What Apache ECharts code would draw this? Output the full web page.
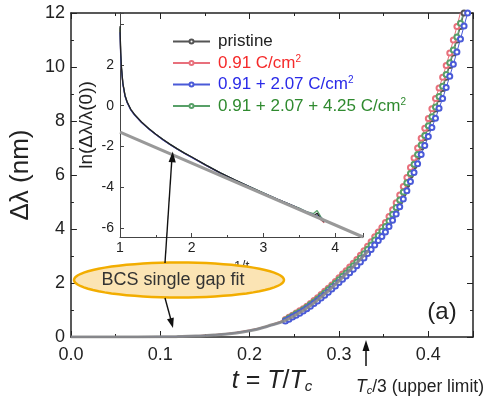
<!DOCTYPE html>
<html>
<head>
<meta charset="utf-8">
<script src="https://cdn.jsdelivr.net/npm/echarts@6/dist/echarts.min.js"></script>
<style>
  html, body { margin: 0; padding: 0; background: #fff; }
  #chart { width: 493px; height: 401px; }
</style>
</head>
<body>
<div id="chart"></div>
<script>
// reduced temperature t = T/Tc (main panel)
var tData = [0, 0.02, 0.04, 0.06, 0.08, 0.10, 0.12, 0.14, 0.16, 0.18, 0.20, 0.21, 0.22, 0.23, 0.24,
  0.244, 0.248, 0.252, 0.256, 0.26, 0.264, 0.268, 0.272, 0.276, 0.28, 0.284, 0.288, 0.292, 0.296,
  0.3, 0.304, 0.308, 0.312, 0.316, 0.32, 0.324, 0.328, 0.332, 0.336, 0.34, 0.344, 0.348, 0.352, 0.356,
  0.36, 0.364, 0.368, 0.372, 0.376, 0.38, 0.384, 0.388, 0.392, 0.396, 0.4, 0.404, 0.408, 0.412, 0.416,
  0.42, 0.424, 0.428, 0.432, 0.436, 0.44, 0.444];

// delta lambda (nm) for each irradiation dose
var pristine = [0, 0, 0, 0, 0, 0.01, 0.02, 0.04, 0.08, 0.14, 0.24, 0.31, 0.4, 0.5, 0.61,
  0.69, 0.77, 0.85, 0.92, 1.00, 1.09, 1.19, 1.29, 1.39, 1.50, 1.61, 1.73, 1.85, 1.97,
  2.10, 2.23, 2.35, 2.48, 2.61, 2.75, 2.90, 3.05, 3.22, 3.38, 3.55, 3.72, 3.88, 4.05, 4.26,
  4.50, 4.75, 5.02, 5.32, 5.65, 6.00, 6.34, 6.69, 7.04, 7.39, 7.74, 8.08, 8.44, 8.82, 9.20,
  9.62, 10.06, 10.52, 11.0, 11.5, 12.0, 12.5];
var dose1 = [0, 0, 0, 0, 0, 0.01, 0.02, 0.05, 0.09, 0.15, 0.26, 0.33, 0.42, 0.53, 0.65,
  0.73, 0.81, 0.89, 0.97, 1.05, 1.14, 1.24, 1.35, 1.45, 1.57, 1.69, 1.81, 1.93, 2.06,
  2.19, 2.33, 2.45, 2.59, 2.73, 2.87, 3.03, 3.19, 3.36, 3.53, 3.71, 3.89, 4.06, 4.24, 4.46,
  4.71, 4.97, 5.26, 5.57, 5.91, 6.28, 6.63, 7.0, 7.36, 7.73, 8.09, 8.45, 8.83, 9.22, 9.62,
  10.06, 10.52, 11.0, 11.5, 12.02, 12.54, 13.07];
var dose2 = [0, 0, 0, 0, 0, 0.01, 0.02, 0.04, 0.07, 0.13, 0.23, 0.3, 0.38, 0.48, 0.59,
  0.66, 0.74, 0.81, 0.88, 0.96, 1.05, 1.14, 1.24, 1.33, 1.44, 1.55, 1.66, 1.78, 1.89,
  2.02, 2.14, 2.26, 2.38, 2.51, 2.64, 2.78, 2.93, 3.09, 3.24, 3.41, 3.57, 3.72, 3.89, 4.09,
  4.32, 4.56, 4.82, 5.11, 5.42, 5.76, 6.09, 6.42, 6.76, 7.09, 7.43, 7.76, 8.10, 8.47, 8.83,
  9.24, 9.66, 10.1, 10.56, 11.04, 11.52, 12.0];
var dose3 = [0, 0, 0, 0, 0, 0.01, 0.02, 0.04, 0.08, 0.14, 0.24, 0.32, 0.41, 0.51, 0.62,
  0.70, 0.78, 0.86, 0.93, 1.01, 1.10, 1.20, 1.30, 1.40, 1.52, 1.63, 1.75, 1.87, 1.99,
  2.12, 2.25, 2.37, 2.50, 2.64, 2.78, 2.93, 3.08, 3.25, 3.41, 3.59, 3.76, 3.92, 4.09, 4.30,
  4.55, 4.80, 5.07, 5.37, 5.71, 6.06, 6.40, 6.76, 7.11, 7.46, 7.82, 8.16, 8.52, 8.91, 9.29,
  9.72, 10.16, 10.63, 11.11, 11.62, 12.12, 12.63];

// BCS single gap fit, main panel
var fitT = [0, 0.05, 0.1, 0.12, 0.14, 0.16, 0.18, 0.2, 0.22, 0.24, 0.26, 0.28, 0.3, 0.32, 0.333];
var fitV = [0, 0, 0.005, 0.015, 0.035, 0.07, 0.13, 0.23, 0.4, 0.62, 0.98, 1.48, 2.08, 2.74, 3.2];

// inset: ln(dl/l(0)) vs 1/t
var invT = [1.0, 1.01, 1.02, 1.04, 1.07, 1.1, 1.15, 1.2, 1.3, 1.4, 1.5, 1.6, 1.7, 1.8, 1.9, 2.0,
  2.2, 2.4, 2.6, 2.8, 3.0, 3.2, 3.4, 3.5, 3.6, 3.7, 3.75, 3.8, 3.85];
var lnPristine = [3.9, 2.6, 1.9, 1.1, 0.5, 0.18, -0.18, -0.42, -0.8, -1.12, -1.4, -1.66, -1.9, -2.12, -2.33, -2.52,
  -2.92, -3.3, -3.64, -3.97, -4.29, -4.6, -4.9, -5.06, -5.25, -5.42, -5.28, -5.55, -5.72];
var lnDose1 = [3.7, 2.5, 1.85, 1.08, 0.48, 0.16, -0.2, -0.44, -0.82, -1.13, -1.41, -1.67, -1.91, -2.13, -2.34, -2.53,
  -2.93, -3.31, -3.65, -3.98, -4.3, -4.62, -4.92, -5.08, -5.2, -5.38, -5.45, -5.6, -5.75];
var lnDose2 = [3.6, 2.4, 1.8, 1.05, 0.46, 0.15, -0.21, -0.45, -0.83, -1.14, -1.42, -1.68, -1.92, -2.14, -2.35, -2.54,
  -2.93, -3.31, -3.65, -3.98, -4.3, -4.6, -4.9, -5.05, -5.22, -5.35, -5.4, -5.5, -5.68];
var lnDose3 = [3.8, 2.55, 1.88, 1.1, 0.5, 0.17, -0.19, -0.43, -0.81, -1.12, -1.4, -1.66, -1.9, -2.12, -2.33, -2.52,
  -2.92, -3.3, -3.64, -3.96, -4.28, -4.6, -4.9, -5.03, -5.2, -5.3, -5.15, -5.45, -5.65];
var lnFitX = [1, 4.39];
var lnFitY = [-1.3, -6.45];
var insetYLabels = [-6, -4, -2, 0, 2];

var names = ['pristine', '0.91 C/cm2', '0.91 + 2.07 C/cm2', '0.91 + 2.07 + 4.25 C/cm2'];
var colors = ['#555555', '#e8707c', '#4a5ad8', '#58a068'];
var legendKeys = ['p', 'r', 'b', 'g'];

var FONT = 'Liberation Sans, Arial, sans-serif';
var chart = echarts.init(document.getElementById('chart'));

function pairs(xs, ys) {
  return xs.map(function (x, i) { return [x, ys[i]]; });
}

function mainSeries(i, vals) {
  return {
    name: names[i],
    type: 'line',
    xAxisIndex: 0,
    yAxisIndex: 0,
    data: tData.map(function (t, k) {
      // low-t points are so dense they only show as a band
      return { value: [t, vals[k]], symbol: t < 0.24 ? 'none' : 'emptyCircle' };
    }),
    symbol: 'emptyCircle',
    symbolSize: 5,
    lineStyle: { color: colors[i], width: 1 },
    itemStyle: { color: colors[i], borderWidth: 1 },
    z: 2
  };
}

function insetSeries(i, vals, z) {
  return {
    name: 'inset ' + names[i],
    type: 'line',
    xAxisIndex: 2,
    yAxisIndex: 2,
    data: pairs(invT, vals),
    showSymbol: false,
    lineStyle: { color: i === 0 ? '#222' : colors[i], width: 1.3 },
    z: z
  };
}

// ellipse outline round the annotation
var ellipsePts = [];
for (var a = 0; a < 72; a++) {
  var ang = a / 72 * Math.PI * 2;
  ellipsePts.push([179 + 105 * Math.cos(ang), 280 + 17.5 * Math.sin(ang)]);
}

var tickLabel = { color: '#222', fontSize: 18, fontFamily: FONT };
var axisLine = { onZero: false, lineStyle: { color: '#222', width: 1.5 } };
var insetLine = { show: true, onZero: false, lineStyle: { color: '#444', width: 1 } };
var insetLabel = { color: '#222', fontSize: 14, fontFamily: FONT };

var supStyle = function (c) { return { color: c, fontSize: 10, lineHeight: 11, verticalAlign: 'top', fontFamily: FONT }; };
var txtStyle = function (c) { return { color: c, fontSize: 17, lineHeight: 18, fontFamily: FONT }; };

var option = {
  animation: false,
  backgroundColor: '#fff',
  grid: [
    { left: 69, top: 13, width: 404, height: 324 },
    { left: 120, top: 13, width: 243, height: 224 }
  ],
  xAxis: [
    {
      type: 'value', gridIndex: 0, min: 0, max: 0.45, interval: 0.1,
      axisLine: axisLine,
      axisTick: { inside: true, length: 6, lineStyle: { color: '#222' } },
      minorTick: { show: true, splitNumber: 2, length: 3, lineStyle: { color: '#222' } },
      splitLine: { show: false },
      axisLabel: Object.assign({ margin: 9, showMaxLabel: false, formatter: function (v) { return v.toFixed(1); } }, tickLabel),
      name: '{i|t} = {i|T}/{i|T}{sub|c}',
      nameLocation: 'middle',
      nameGap: 27,
      nameTextStyle: {
        rich: {
          i: { fontSize: 25, fontStyle: 'italic', fontFamily: FONT, color: '#222', lineHeight: 26 },
          sub: { fontSize: 15, fontStyle: 'italic', fontFamily: FONT, color: '#222', lineHeight: 16, verticalAlign: 'bottom' }
        },
        fontSize: 25, fontFamily: FONT, color: '#222'
      }
    },
    {
      type: 'value', gridIndex: 0, position: 'top', min: 0, max: 0.45, interval: 0.1,
      axisLine: axisLine,
      axisTick: { inside: true, length: 6, lineStyle: { color: '#222' } },
      minorTick: { show: true, splitNumber: 2, length: 3, lineStyle: { color: '#222' } },
      splitLine: { show: false },
      axisLabel: { show: false }
    },
    {
      type: 'value', gridIndex: 1, min: 1, max: 4.39, interval: 1,
      axisLine: insetLine,
      axisTick: { inside: true, length: 4, lineStyle: { color: '#444' } },
      minorTick: { show: true, splitNumber: 2, length: 2, lineStyle: { color: '#444' } },
      splitLine: { show: false },
      axisLabel: Object.assign({ margin: 4, showMaxLabel: false }, insetLabel),
      name: '1/t',
      nameLocation: 'middle',
      nameGap: 16,
      nameTextStyle: { color: '#333', fontSize: 14, fontFamily: FONT }
    }
  ],
  yAxis: [
    {
      type: 'value', gridIndex: 0, min: 0, max: 12, interval: 2,
      axisLine: axisLine,
      axisTick: { inside: true, length: 6, lineStyle: { color: '#222' } },
      minorTick: { show: true, splitNumber: 2, length: 3, lineStyle: { color: '#222' } },
      splitLine: { show: false },
      axisLabel: Object.assign({ margin: 6 }, tickLabel),
      name: 'Δλ (nm)',
      nameLocation: 'middle',
      nameGap: 29,
      nameTextStyle: { color: '#222', fontSize: 26, fontFamily: FONT }
    },
    {
      type: 'value', gridIndex: 0, position: 'right', min: 0, max: 12, interval: 2,
      axisLine: axisLine,
      axisTick: { inside: true, length: 6, lineStyle: { color: '#222' } },
      minorTick: { show: true, splitNumber: 2, length: 3, lineStyle: { color: '#222' } },
      splitLine: { show: false },
      axisLabel: { show: false }
    },
    {
      type: 'value', gridIndex: 1, min: -6.45, max: 4.55, splitNumber: 5,
      axisLine: insetLine,
      axisTick: { show: true, inside: true, length: 4, lineStyle: { color: '#444' } },
      splitLine: { show: false },
      // labels are placed below from this axis' own scale
      axisLabel: { show: false },
      name: 'ln(Δλ/λ(0))',
      nameLocation: 'middle',
      nameGap: 24,
      nameTextStyle: { color: '#222', fontSize: 19, fontFamily: FONT }
    }
  ],
  legend: {
    left: 167,
    top: 28,
    orient: 'vertical',
    itemWidth: 37,
    itemHeight: 5,
    itemGap: 4,
    data: names,
    formatter: function (n) {
      var k = legendKeys[names.indexOf(n)];
      if (k === 'p') return '{p|pristine}';
      return '{' + k + '|' + n.slice(0, -1) + '}{' + k + 's|2}';
    },
    textStyle: {
      padding: [0, 0, 0, 3],
      rich: {
        p: txtStyle('#222'),
        r: txtStyle('#f52a2a'), rs: supStyle('#f52a2a'),
        b: txtStyle('#2a2ae8'), bs: supStyle('#2a2ae8'),
        g: txtStyle('#2f8a2f'), gs: supStyle('#2f8a2f')
      }
    }
  },
  series: [
    mainSeries(0, pristine),
    mainSeries(1, dose1),
    mainSeries(3, dose3),
    mainSeries(2, dose2),
    {
      name: 'BCS fit',
      type: 'line',
      xAxisIndex: 0,
      yAxisIndex: 0,
      data: pairs(fitT, fitV),
      showSymbol: false,
      smooth: true,
      lineStyle: { color: '#8a8a8a', width: 3, opacity: 0.9 },
      z: 3
    },
    insetSeries(1, lnDose1, 2),
    insetSeries(3, lnDose3, 2),
    insetSeries(2, lnDose2, 3),
    insetSeries(0, lnPristine, 4),
    {
      name: 'inset fit',
      type: 'line',
      xAxisIndex: 2,
      yAxisIndex: 2,
      data: pairs(lnFitX, lnFitY),
      showSymbol: false,
      lineStyle: { color: '#999', width: 3 },
      z: 5
    }
  ],
  graphic: [
    { type: 'polygon', z: 100, shape: { points: ellipsePts }, style: { fill: '#fbe4b4', stroke: '#f2ad00', lineWidth: 2.5 } },
    { type: 'text', z: 101, x: 173, y: 280, style: { text: 'BCS single gap fit', fill: '#333', font: '18px ' + FONT, align: 'center', verticalAlign: 'middle' } },
    // arrow to inset fit line
    { type: 'line', z: 102, shape: { x1: 165, y1: 263, x2: 171.8, y2: 160 }, style: { stroke: '#111', lineWidth: 1.4 } },
    { type: 'polygon', z: 102, shape: { points: [[172.7, 151.5], [168.6, 162], [175.8, 162.4]] }, style: { fill: '#111' } },
    // arrow to main fit line
    { type: 'line', z: 102, shape: { x1: 165, y1: 298, x2: 171, y2: 320 }, style: { stroke: '#111', lineWidth: 1.4 } },
    { type: 'polygon', z: 102, shape: { points: [[173, 328], [167, 319.2], [173.8, 317.4]] }, style: { fill: '#111' } },
    // upper limit arrow
    { type: 'line', z: 102, shape: { x1: 366, y1: 366, x2: 366, y2: 348 }, style: { stroke: '#111', lineWidth: 1.5 } },
    { type: 'polygon', z: 102, shape: { points: [[366, 340], [362.5, 351], [369.5, 351]] }, style: { fill: '#111' } },
    {
      type: 'text', z: 102, x: 356, y: 387,
      style: {
        text: '{i|T}{sub|c}{n|/3 (upper limit)}',
        align: 'left', verticalAlign: 'middle',
        rich: {
          i: { fontSize: 17.5, fontStyle: 'italic', fontFamily: FONT, fill: '#222', lineHeight: 19 },
          sub: { fontSize: 11, fontStyle: 'italic', fontFamily: FONT, fill: '#222', lineHeight: 12, verticalAlign: 'bottom' },
          n: { fontSize: 17.5, fontFamily: FONT, fill: '#222', lineHeight: 19 }
        }
      }
    },
    { type: 'text', z: 102, x: 442, y: 312, style: { text: '(a)', fill: '#222', font: '24px ' + FONT, align: 'center', verticalAlign: 'middle' } }
  ]
};

chart.setOption(option);

// inset y tick labels, positioned with the inset y axis scale
var insetAxisX = chart.convertToPixel({ xAxisIndex: 2 }, 1);
var labelEls = insetYLabels.map(function (v) {
  return {
    type: 'text', z: 150, x: insetAxisX - 6, y: chart.convertToPixel({ yAxisIndex: 2 }, v),
    style: { text: String(v), fill: insetLabel.color, font: insetLabel.fontSize + 'px ' + FONT, align: 'right', verticalAlign: 'middle' }
  };
});
chart.setOption({ graphic: option.graphic.concat(labelEls) });
</script>
</body>
</html>
